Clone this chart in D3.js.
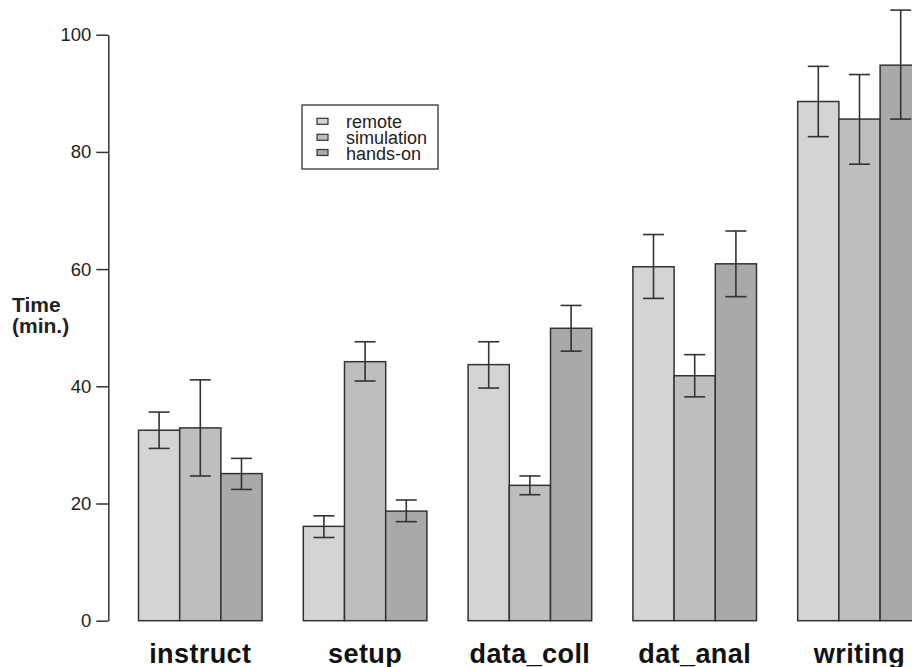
<!DOCTYPE html>
<html>
<head>
<meta charset="utf-8">
<script src="https://cdn.jsdelivr.net/npm/d3@7"></script>
<style>
  html, body { margin: 0; padding: 0; background: #fff; overflow: hidden; }
  svg { display: block; font-family: "Liberation Sans", Arial, sans-serif; }
</style>
</head>
<body>
<svg id="chart"></svg>
<script>
// data
const categories = ["instruct", "setup", "data_coll", "dat_anal", "writing"];
const seriesNames = ["remote", "simulation", "hands-on"];
const seriesColors = ["#d4d4d4", "#bebebe", "#a9a9a9"];

// mean time (min.)
const remote     = [32.5, 16.1, 43.7, 60.4, 88.6];
const simulation = [32.9, 44.2, 23.1, 41.8, 85.6];
const handsOn    = [25.1, 18.7, 49.9, 60.9, 94.8];

// error bar ends
const remoteLo = [29.4, 14.2, 39.7, 55.0, 82.6];
const remoteHi = [35.6, 17.9, 47.6, 65.9, 94.6];
const simLo    = [24.7, 40.9, 21.5, 38.2, 77.9];
const simHi    = [41.1, 47.6, 24.7, 45.4, 93.2];
const handsLo  = [22.4, 16.9, 46.0, 55.3, 85.6];
const handsHi  = [27.7, 20.6, 53.8, 66.5, 104.2];

const yTicks = [0, 20, 40, 60, 80, 100];

// rows for drawing
const means = [remote, simulation, handsOn];
const lows = [remoteLo, simLo, handsLo];
const highs = [remoteHi, simHi, handsHi];
const rows = [];
categories.forEach((c, i) => {
  seriesNames.forEach((s, j) => {
    rows.push({ cat: c, series: s, k: j, value: means[j][i], lo: lows[j][i], hi: highs[j][i] });
  });
});

const width = 912, height = 667;
const svg = d3.select("#chart").attr("width", width).attr("height", height);

// scales
const y = d3.scaleLinear().domain([0, 100]).range([620.7, 34.7]);
const x0 = d3.scaleBand().domain(categories).range([138.5, 921.3])
  .paddingInner(0.25).paddingOuter(0);
const x1 = d3.scaleBand().domain(seriesNames).range([0, x0.bandwidth()]);

// bars
svg.append("g").selectAll("rect")
  .data(rows)
  .join("rect")
  .attr("x", d => x0(d.cat) + x1(d.series))
  .attr("y", d => y(d.value))
  .attr("width", x1.bandwidth())
  .attr("height", d => y(0) - y(d.value))
  .attr("fill", d => seriesColors[d.k])
  .attr("stroke", "#333")
  .attr("stroke-width", 1.5);

// error bars
const cap = 10.5;
const eb = svg.append("g").attr("stroke", "#333").attr("stroke-width", 1.6);
rows.forEach(d => {
  const cx = x0(d.cat) + x1(d.series) + x1.bandwidth() / 2;
  eb.append("line").attr("x1", cx).attr("x2", cx).attr("y1", y(d.lo)).attr("y2", y(d.hi));
  eb.append("line").attr("x1", cx - cap).attr("x2", cx + cap).attr("y1", y(d.lo)).attr("y2", y(d.lo));
  eb.append("line").attr("x1", cx - cap).attr("x2", cx + cap).attr("y1", y(d.hi)).attr("y2", y(d.hi));
});

// y axis
const yAxis = svg.append("g")
  .attr("transform", "translate(108.3,0)")
  .call(d3.axisLeft(y).tickValues(yTicks).tickSize(12).tickSizeOuter(0).tickPadding(5));
yAxis.select(".domain").attr("stroke", "#333").attr("stroke-width", 1.5);
yAxis.selectAll(".tick line").attr("stroke", "#333").attr("stroke-width", 1.5);
yAxis.selectAll(".tick text")
  .attr("font-size", 18.5)
  .attr("font-family", "Liberation Sans, Arial, sans-serif")
  .attr("fill", "#222");

// y title
svg.append("text").attr("x", 12).attr("y", 312)
  .attr("font-size", 21).attr("font-weight", "bold").attr("fill", "#222")
  .text("Time");
svg.append("text").attr("x", 12).attr("y", 333)
  .attr("font-size", 21).attr("font-weight", "bold").attr("fill", "#222")
  .text("(min.)");

// category labels
svg.append("g").selectAll("text")
  .data(categories)
  .join("text")
  .attr("x", d => x0(d) + x0.bandwidth() / 2)
  .attr("y", 662.5)
  .attr("text-anchor", "middle")
  .attr("font-size", 27)
  .attr("font-weight", "bold")
  .attr("letter-spacing", 0.4)
  .attr("fill", "#111")
  .text(d => d);

// legend
const legend = svg.append("g");
legend.append("rect")
  .attr("x", 302).attr("y", 105).attr("width", 136).attr("height", 64)
  .attr("fill", "#fff").attr("stroke", "#222").attr("stroke-width", 1.2);
const baselines = [128.3, 144.3, 159.5];
seriesNames.forEach((s, j) => {
  legend.append("rect")
    .attr("x", 317).attr("y", baselines[j] - 10).attr("width", 11).attr("height", 6)
    .attr("fill", seriesColors[j]).attr("stroke", "#333").attr("stroke-width", 1.2);
  legend.append("text")
    .attr("x", 346).attr("y", baselines[j])
    .attr("font-size", 18).attr("fill", "#222")
    .text(s);
});
</script>
</body>
</html>
